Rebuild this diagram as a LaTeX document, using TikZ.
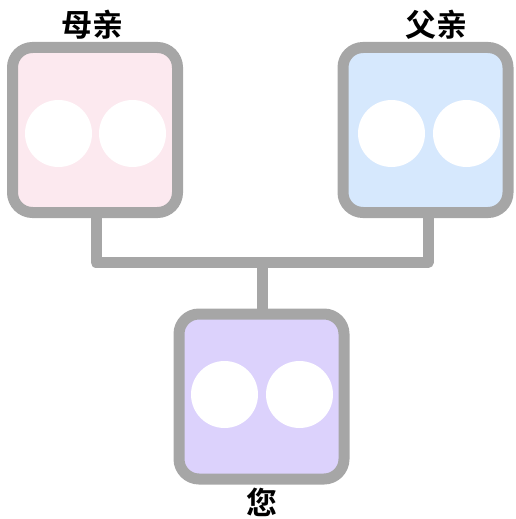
\documentclass[tikz,border=0pt]{standalone}
\usepackage{fontspec}
\newfontfamily\cjk{Noto Sans CJK SC}[BoldFont={Noto Sans CJK SC Bold}]
\definecolor{edgegray}{HTML}{A6A6A6}
\definecolor{momfill}{HTML}{FCE9EF}
\definecolor{dadfill}{HTML}{D6E8FD}
\definecolor{youfill}{HTML}{DCD2FC}
\begin{document}
\begin{tikzpicture}[x=1pt,y=-1pt,
  person/.style={draw=edgegray,line width=11pt,rounded corners=20pt,minimum width=165pt,minimum height=165pt,inner sep=0pt},
  eye/.style={circle,fill=white,minimum size=67pt,inner sep=0pt},
  link/.style={draw=edgegray,line width=11pt,line cap=butt,line join=round},
  lbl/.style={font=\cjk\bfseries\fontsize{31}{31}\selectfont,inner sep=0pt}]
\useasboundingbox (0,0) rectangle (515,519);
\node[person,fill=momfill] (mom) at (95,130) {};
\node[person,fill=dadfill] (dad) at (425.5,130) {};
\node[person,fill=youfill] (you) at (261.5,396.5) {};
\node[eye] (m1) at (58.5,133.5) {};
\node[eye] (m2) at (132.5,133.5) {};
\node[eye] (d1) at (391.5,133.5) {};
\node[eye] (d2) at (466.5,133.5) {};
\node[eye] (y1) at (224.5,394.5) {};
\node[eye] (y2) at (299.5,394.5) {};
\coordinate (jm) at (96,262.5);
\coordinate (jd) at (428,262.5);
\coordinate (jc) at (262,262.5);
\draw[link] (mom.south -| jm) -- (jm) -- (jd) -- (dad.south -| jd);
\draw[link] (jc) -- (you.north -| jc);
\node[lbl] (ml) at (92,25) {母亲};
\node[lbl] (dl) at (436,25) {父亲};
\node[lbl] (yl) at (262,502) {您};
\end{tikzpicture}
\end{document}
